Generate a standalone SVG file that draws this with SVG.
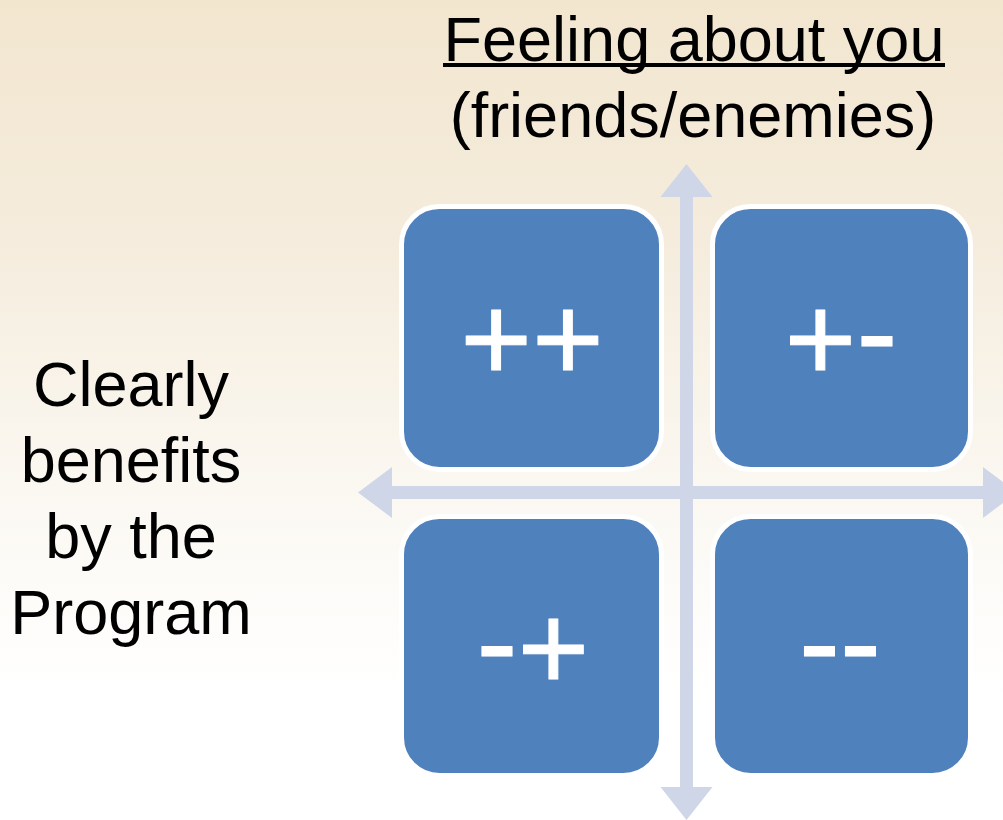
<svg xmlns="http://www.w3.org/2000/svg" width="1003" height="820" viewBox="0 0 1003 820">
  <defs>
    <linearGradient id="bg" x1="0" y1="0" x2="0" y2="1">
      <stop offset="0" stop-color="#F2E6CF"/>
      <stop offset="0.3" stop-color="#F5ECDD"/>
      <stop offset="0.6" stop-color="#FBF8F2"/>
      <stop offset="0.85" stop-color="#FFFFFF"/>
      <stop offset="1" stop-color="#FFFFFF"/>
    </linearGradient>
  </defs>
  <style>
    .label { font-family: "Liberation Sans", Arial, sans-serif; font-size: 63px; fill: #000000; text-anchor: middle; }
    .box { fill: #4F81BD; stroke: #FFFFFF; stroke-width: 5; }
    .sym { font-family: "Liberation Sans", Arial, sans-serif; font-size: 123px; fill: #FFFFFF; stroke: #FFFFFF; stroke-width: 1; stroke-linejoin: round; text-anchor: middle; }
    .axis { fill: #CED6E7; }
  </style>

  <rect x="0" y="0" width="1003" height="820" fill="url(#bg)"/>

  <!-- axis titles -->
  <g id="title-top">
    <text class="label" x="694" y="61">Feeling about you</text>
    <!-- solid underline running through the descenders -->
    <rect x="443" y="63" width="502" height="4" fill="#000000"/>
    <text class="label" x="693" y="137">(friends/enemies)</text>
  </g>
  <g id="title-left">
    <text class="label" x="131" y="406">Clearly</text>
    <text class="label" x="131" y="482">benefits</text>
    <text class="label" x="131" y="558">by the</text>
    <text class="label" x="131" y="634">Program</text>
  </g>

  <!-- double-headed axes -->
  <g id="connectors">
    <path class="axis" d="M686.5,164 L712.5,197 L693,197 L693,787 L712.5,787 L686.5,820 L660.5,787 L680,787 L680,197 L660.5,197 Z"/>
    <path class="axis" d="M358,492.5 L392,467 L392,486 L983,486 L983,467 L1017,492.5 L983,518 L983,499 L392,499 L392,518 Z"/>
  </g>

  <!-- quadrants -->
  <g id="q-pp">
    <rect class="box" x="401.5" y="206.5" width="260" height="263" rx="38"/>
    <text class="sym" x="532" y="381">++</text>
  </g>
  <g id="q-pm">
    <rect class="box" x="712.5" y="206.5" width="258" height="263" rx="38"/>
    <text class="sym" x="841" y="381">+<tspan dy="-7">-</tspan></text>
  </g>
  <g id="q-mp">
    <rect class="box" x="401.5" y="516.5" width="260" height="259" rx="38"/>
    <text class="sym" x="533" y="684">-<tspan dy="6">+</tspan></text>
  </g>
  <g id="q-mm">
    <rect class="box" x="712.5" y="516.5" width="258" height="259" rx="38"/>
    <text class="sym" x="840" y="683.5">--</text>
  </g>
</svg>
